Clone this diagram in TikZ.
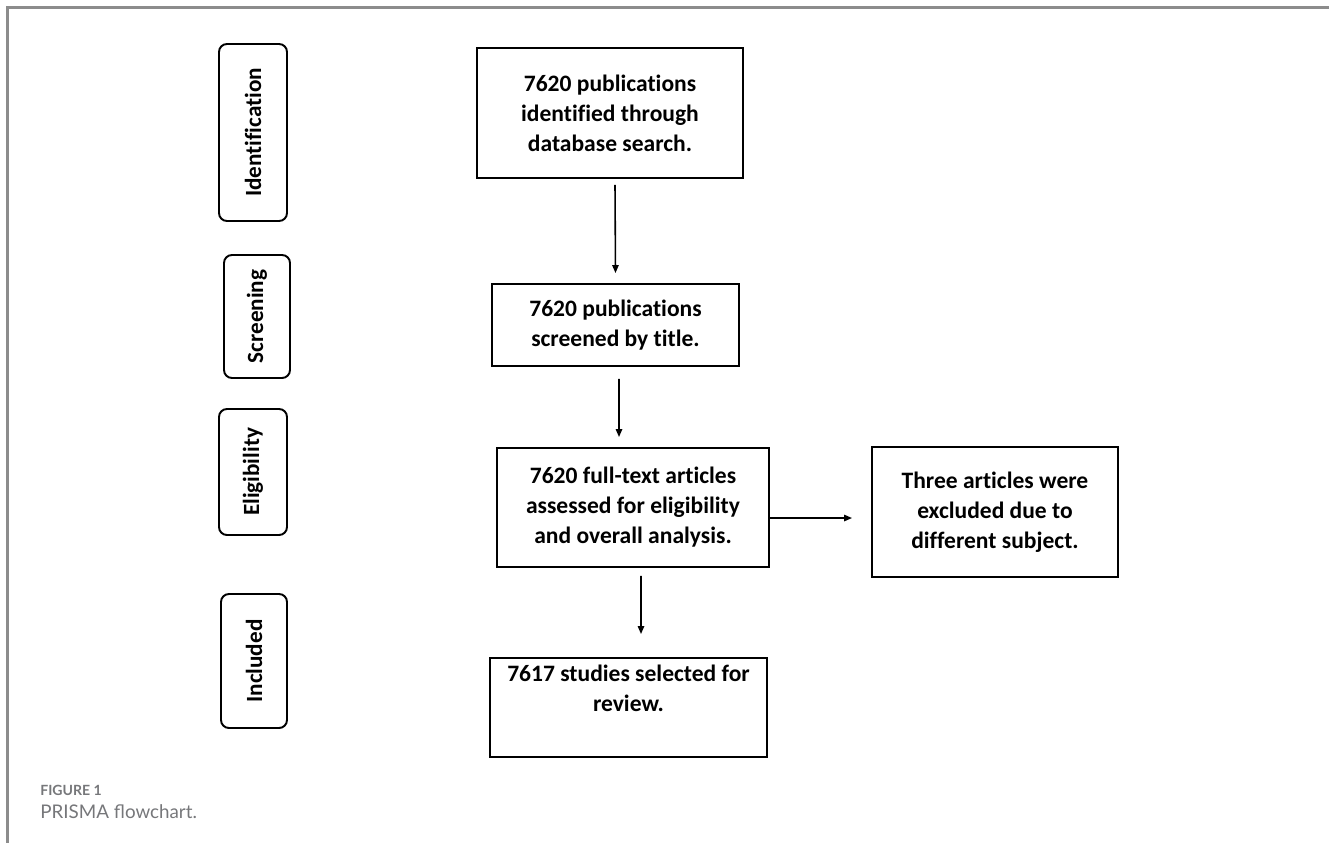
\documentclass[tikz,border=0pt]{standalone}
\usepackage{fontspec}
\setmainfont{Carlito}[Ligatures={NoCommon}]
\newfontfamily\captionfont{Lato}
\usepackage{tikz}
\usetikzlibrary{arrows.meta}
\definecolor{marco}{HTML}{8C8C8C}
\definecolor{pie}{HTML}{76777A}

\begin{document}
\begin{tikzpicture}[x=0.02cm, y=-0.02cm,
    caja/.style={draw, line width=1.1pt, align=center, inner sep=2pt,
        font=\bfseries\fontsize{13.4}{17.1}\selectfont},
    etiqueta/.style={draw, line width=1.1pt, rounded corners=4.5pt, rotate=90,
        font=\bfseries\fontsize{13.2}{15}\selectfont},
    flecha/.style={line width=0.9pt, -{Triangle[length=4.5pt,width=3.6pt]}}]
    \useasboundingbox (0,0) rectangle (1329,843);
    % Marco
    \draw[marco, line width=1.4pt] (1329,7.5) -- (7.5,7.5) -- (7.5,843);

    % Etiquetas de las fases (izquierda)
    \node[etiqueta, minimum width=3.54cm, minimum height=1.36cm] (ident) at (253,132.5) {Identification};
    \node[etiqueta, minimum width=2.46cm, minimum height=1.32cm] (scr) at (257,316.5) {Screening};
    \node[etiqueta, minimum width=2.52cm, minimum height=1.36cm] (elig) at (253,472) {Eligibility};
    \node[etiqueta, minimum width=2.68cm, minimum height=1.32cm] (incl) at (254,661) {Included};

    % Cajas del diagrama
    \node[caja, minimum width=5.32cm, minimum height=2.6cm] (b1) at (610,113)
        {7620 publications\\identified through\\database search.};
    \node[caja, minimum width=4.94cm, minimum height=1.64cm] (b2) at (615.5,325)
        {7620 publications\\screened by title.};
    \node[caja, minimum width=5.44cm, minimum height=2.38cm] (b3) at (633,507.5)
        {7620 full-text articles\\assessed for eligibility\\and overall analysis.};
    \node[caja, minimum width=4.92cm, minimum height=2.6cm] (b4) at (995,512)
        {Three articles were\\excluded due to\\different subject.};
    \node[caja, minimum width=5.54cm, minimum height=1.98cm] (b5) at (628.5,707.5)
        {7617 studies selected for\\review.\\\strut};

    % Flechas
    \draw[flecha] ([shift={(5,6)}]b1.south) -- ([shift={(0,-10)}]b2.north);
    \draw[flecha] ([shift={(3.5,12)}]b2.south) -- ([shift={(-14,-10)}]b3.north);
    \draw[flecha] ([shift={(8,8)}]b3.south) -- ([shift={(12.5,-23)}]b5.north);
    \draw[flecha] ([shift={(0,10.5)}]b3.east) -- ([shift={(-19,6)}]b4.west);

    % Pie de figura
    \node[anchor=west, inner sep=0pt, text=pie, font=\captionfont\bfseries\fontsize{8}{9}\selectfont] (fig) at (40,790) {FIGURE 1};
    \node[anchor=north west, inner sep=0pt, text=pie, font=\captionfont\fontsize{10.7}{13}\selectfont] (cap) at ([yshift=-5pt]fig.south west) {PRISMA flowchart.};
\end{tikzpicture}
\end{document}
